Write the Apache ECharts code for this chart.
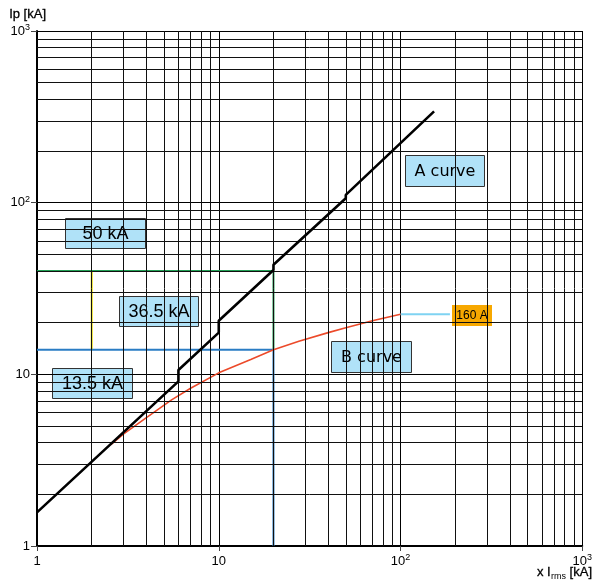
<!DOCTYPE html>
<html><head><meta charset="utf-8">
<script src="https://cdn.jsdelivr.net/npm/echarts@6/dist/echarts.min.js"></script>
<style>html,body{margin:0;padding:0;background:#fff}#c{width:595px;height:584px}</style>
</head><body><div id="c"></div>
<script>
// ---- data ----
const tickValues = [1, 10, 100, 1000];
const tickLabels = ['1', '10', '10{sup|2}', '10{sup|3}'];
const decades = [1, 10, 100];
const minorMultipliers = [2, 3, 4, 5, 6, 7, 8, 9];

// A curve (peak current, with steps)
const aCurveX = [1, 6, 6, 10, 10, 20, 20, 50, 50, 153];
const aCurveY = [1.57, 9.1, 10.6, 17.5, 20.5, 40.5, 43.5, 106, 111, 340];

// B curve (limited peak current)
const bCurveX = [2.55, 3, 4, 5.5, 7, 10, 15, 20, 27.6, 40, 50, 70, 100];
const bCurveY = [3.9, 4.5, 5.6, 7.1, 8.3, 10.2, 12.2, 13.9, 15.6, 17.5, 18.7, 20.5, 22.4];

// guide lines
const greenHX = [1, 20], greenHY = [40, 40];
const greenVX = [20, 20], greenVY = [40, 13.9];
const yellowVX = [2, 2], yellowVY = [40, 13.9];
const blueHX = [1, 20], blueHY = [13.9, 13.9];
const blueVX = [20, 20], blueVY = [13.9, 1];
const cyanHX = [100, 187], cyanHY = [22.4, 22.4];

const labels50 = '50 kA', label365 = '36.5 kA', label135 = '13.5 kA';
const labelA = 'A curve', labelB = 'B curve', label160 = '160 A';

// ---- build ----
const pairs = (xs, ys) => xs.map((x, i) => [x, ys[i]]);
const minorValues = [];
decades.forEach(d => minorMultipliers.forEach(m => minorValues.push(d * m)));

function fmt(v) {
  const i = tickValues.findIndex(t => Math.abs(t - v) < 1e-6 * t);
  return i >= 0 ? tickLabels[i] : '';
}

const chart = echarts.init(document.getElementById('c'), null, {renderer: 'canvas'});
const FONT = 'Liberation Sans, Arial, sans-serif';
const richSup = {sup: {fontSize: 9, verticalAlign: 'top', lineHeight: 9, fontFamily: FONT, color: '#000'}};
const lineSeries = (xs, ys, color, width, z) => ({
  type: 'line', data: pairs(xs, ys), showSymbol: false, symbol: 'none', silent: true,
  lineStyle: {color: color, width: width}, z: z
});

const option = {
  animation: false,
  backgroundColor: '#fff',
  grid: {left: 37, right: 10, top: 31, bottom: 38},
  xAxis: {
    type: 'log', logBase: 10, min: 1, max: 1000,
    axisLine: {lineStyle: {color: '#000', width: 2}},
    axisTick: {show: true, length: 5, lineStyle: {color: '#444', width: 1}},
    axisLabel: {formatter: fmt, color: '#000', fontSize: 13, lineHeight: 16, fontFamily: FONT, margin: 7, showMaxLabel: true, showMinLabel: true, rich: richSup},
    splitLine: {show: true, lineStyle: {color: '#000', width: 1}}
  },
  yAxis: {
    type: 'log', logBase: 10, min: 1, max: 1000,
    axisLine: {show: true, lineStyle: {color: '#000', width: 2}},
    axisTick: {show: true, length: 6, lineStyle: {color: '#444', width: 1}},
    axisLabel: {formatter: fmt, color: '#000', fontSize: 13, lineHeight: 16, fontFamily: FONT, margin: 7, showMaxLabel: true, showMinLabel: true, rich: richSup},
    splitLine: {show: true, lineStyle: {color: '#000', width: 1}}
  },
  series: [
    {
      type: 'line', data: [], silent: true, z: 1,
      markLine: {
        silent: true, symbol: ['none', 'none'], animation: false,
        label: {show: false},
        lineStyle: {color: '#111', width: 1, type: 'solid'},
        data: minorValues.map(v => ({xAxis: v})).concat(minorValues.map(v => ({yAxis: v})))
      }
    },
    lineSeries(greenHX, greenHY, '#22a055', 2, 3),
    lineSeries(greenVX, greenVY, '#22a055', 2, 3),
    lineSeries(yellowVX, yellowVY, '#eee000', 2, 3),
    lineSeries(blueHX, blueHY, '#2a7cc4', 2, 3),
    lineSeries(blueVX, blueVY, '#2a7cc4', 2, 3),
    lineSeries(cyanHX, cyanHY, '#7fd3f2', 2, 3),
    lineSeries(bCurveX, bCurveY, '#ec4a2a', 1.6, 4),
    lineSeries(aCurveX, aCurveY, '#000', 2.6, 5)
  ],
  graphic: [
    {type: 'text', left: 9, top: 8, z: 10, style: {text: 'Ip [kA]', fontSize: 13, fontFamily: FONT, fill: '#000', stroke: '#000', lineWidth: 0.3}},
    {type: 'text', x: 537, y: 566, z: 10, style: {text: 'x I', fontSize: 13, fontFamily: FONT, fill: '#000', stroke: '#000', lineWidth: 0.3}},
    {type: 'text', x: 551, y: 572, z: 10, style: {text: 'rms', fontSize: 9, fontFamily: FONT, fill: '#000'}},
    {type: 'text', x: 566, y: 566, z: 10, style: {text: ' [kA]', fontSize: 13, fontFamily: FONT, fill: '#000', stroke: '#000', lineWidth: 0.3}},
    box(65, 218, 80, 30, labels50, FONT, 18),
    box(119, 296, 79, 30, label365, FONT, 18),
    box(52, 368, 80, 30, label135, FONT, 18),
    box(405, 155, 79, 31, labelA, 'DejaVu Sans, sans-serif', 16),
    box(331, 341, 80, 31, labelB, 'DejaVu Sans, sans-serif', 16),
    {
      type: 'group', x: 452, y: 305, z: 10, children: [
        {type: 'rect', shape: {x: 0, y: 0, width: 40, height: 21}, style: {fill: '#f7a800'}},
        {type: 'text', x: 20, y: 10.5, style: {text: label160, fontSize: 12, fontFamily: FONT, fill: '#000', align: 'center', verticalAlign: 'middle'}}
      ]
    }
  ]
};

function box(x, y, w, h, text, font, size) {
  return {
    type: 'group', x: x, y: y, z: 10, children: [
      {type: 'rect', shape: {x: 0.5, y: 0.5, width: w, height: h}, style: {fill: '#b0e2f8', stroke: '#333', lineWidth: 1}},
      {type: 'text', x: w / 2 + 0.5, y: h / 2 + 1, style: {text: text, fontSize: size, fontFamily: font, fill: '#000', align: 'center', verticalAlign: 'middle'}}
    ]
  };
}

chart.setOption(option);
</script>
</body></html>
